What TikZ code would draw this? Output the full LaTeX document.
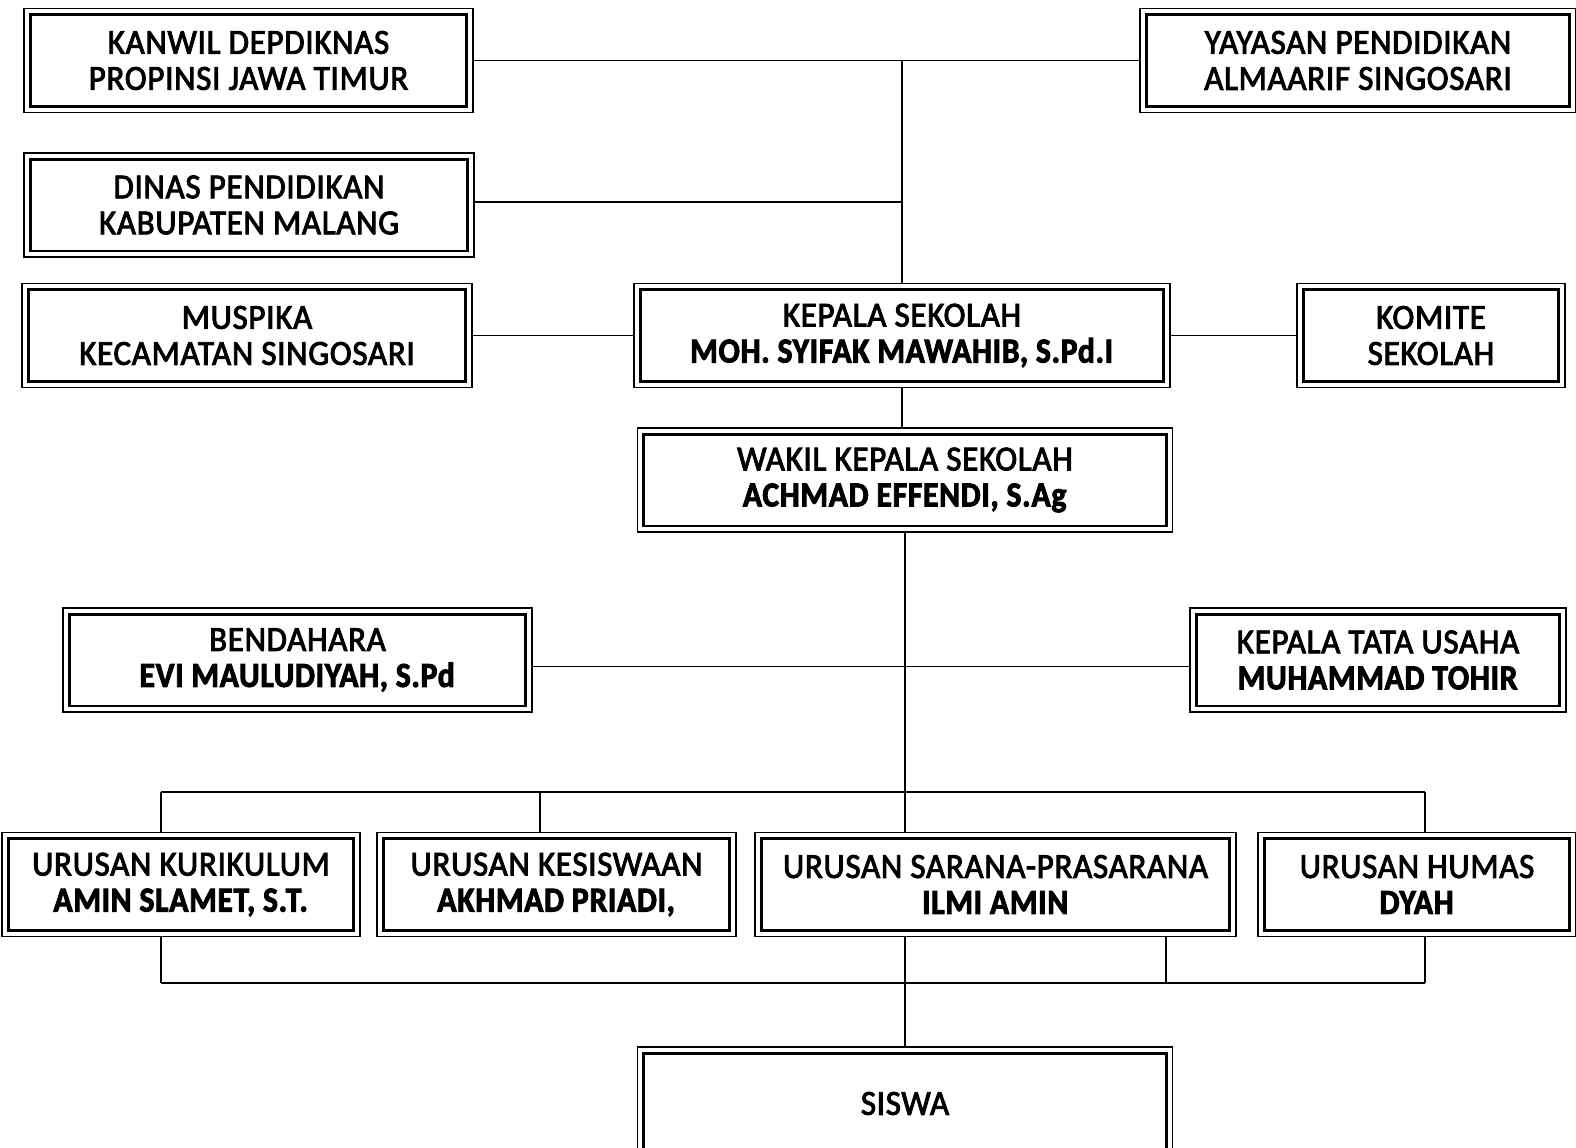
\documentclass[tikz,border=0pt]{standalone}
\usepackage{fontspec}
\setmainfont{Carlito}[FakeStretch=0.94,FakeBold=2.6,LetterSpace=2,BoldFeatures={FakeStretch=0.90}]
\begin{document}
\begin{tikzpicture}[x=0.02cm,y=-0.02cm,
  kotak/.style={draw,line width=1.7pt,inner sep=0pt,outer sep=0.12cm,align=center,
    minimum height=1.84cm,font=\fontsize{20}{20.5}\selectfont},
  garis/.style={line width=1.1pt}]
\useasboundingbox (0,0) rectangle (1576,1147);
%kotak atas
  \node[kotak,minimum width=8.74cm] (kanwil) at (248.5,60.5) {KANWIL DEPDIKNAS\\PROPINSI JAWA TIMUR};
  \node[kotak,minimum width=8.48cm] (yayasan) at (1358,60.5) {YAYASAN PENDIDIKAN\\ALMAARIF SINGOSARI};
  \node[kotak,minimum width=8.76cm] (dinas) at (249,205) {DINAS PENDIDIKAN\\KABUPATEN MALANG};
  \node[kotak,minimum width=8.76cm] (muspika) at (247,335.5) {MUSPIKA\\KECAMATAN SINGOSARI};
  \node[kotak,minimum width=10.48cm] (kepsek) at (902,335.5) {KEPALA SEKOLAH\\\textbf{MOH. SYIFAK MAWAHIB, S.Pd.I}};
  \node[kotak,minimum width=5.12cm] (komite) at (1431,335.5) {KOMITE\\SEKOLAH};
  \node[kotak,minimum width=10.46cm] (wakil) at (905,480) {WAKIL KEPALA SEKOLAH\\\textbf{ACHMAD EFFENDI, S.Ag}};
%kotak tengah
  \node[kotak,minimum width=9.14cm] (bendahara) at (297.5,660) {BENDAHARA\\\textbf{EVI MAULUDIYAH, S.Pd}};
  \node[kotak,minimum width=7.28cm] (ktu) at (1378,660) {KEPALA TATA USAHA\\\textbf{MUHAMMAD TOHIR}};
%urusan
  \node[kotak,minimum width=6.92cm] (kurikulum) at (181,884.5) {URUSAN KURIKULUM\\\textbf{AMIN SLAMET, S.T.}};
  \node[kotak,minimum width=6.94cm] (kesiswaan) at (556.5,884.5) {URUSAN KESISWAAN\\\textbf{AKHMAD PRIADI,}};
  \node[kotak,minimum width=9.38cm] (sarana) at (995.5,884.5) {URUSAN SARANA-PRASARANA\\\textbf{ILMI AMIN}};
  \node[kotak,minimum width=6.12cm] (humas) at (1417,884.5) {URUSAN HUMAS\\\textbf{DYAH}};
  \node[kotak,minimum width=10.46cm,minimum height=2.02cm] (siswa) at (905,1103.5) {SISWA};
%garis luar
  \foreach \n in {kanwil,yayasan,dinas,muspika,kepsek,komite,wakil,bendahara,ktu,kurikulum,kesiswaan,sarana,humas,siswa}
    \draw[line width=1pt] (\n.north west) rectangle (\n.south east);
%garis penghubung
  \draw[garis] (kanwil) -- (yayasan);
  \draw[garis] (kepsek.north |- kanwil) -- (kepsek.north);
  \draw[garis] ([yshift=0.06cm]dinas.east) -- ([yshift=0.06cm]dinas.east -| kepsek.north);
  \draw[garis] (muspika) -- (kepsek);
  \draw[garis] (kepsek) -- (komite);
  \draw[garis] (kepsek.south) -- (kepsek.south |- wakil.north);
  \draw[garis] (wakil.south) -- (wakil.south |- sarana.north);
  \draw[garis] ([yshift=-0.13cm]bendahara.east) -- ([yshift=-0.13cm]ktu.west);
%cabang urusan
  \coordinate (k1) at (161,792);
  \coordinate (k2) at (540,792);
  \coordinate (k3) at (1425,792);
  \draw[garis] (k1) -- (k3);
  \draw[garis] (k1) -- (k1 |- kurikulum.north);
  \draw[garis] (k2) -- (k2 |- kesiswaan.north);
  \draw[garis] (k3) -- (k3 |- humas.north);
  \coordinate (b1) at (161,983);
  \coordinate (b2) at (1166,983);
  \coordinate (b3) at (1425,983);
  \draw[garis] (b1) -- (b3);
  \draw[garis] (b1 |- kurikulum.south) -- (b1);
  \draw[garis] (b2 |- sarana.south) -- (b2);
  \draw[garis] (b3 |- humas.south) -- (b3);
  \draw[garis] (siswa.north |- sarana.south) -- (siswa.north);
\end{tikzpicture}
\end{document}
